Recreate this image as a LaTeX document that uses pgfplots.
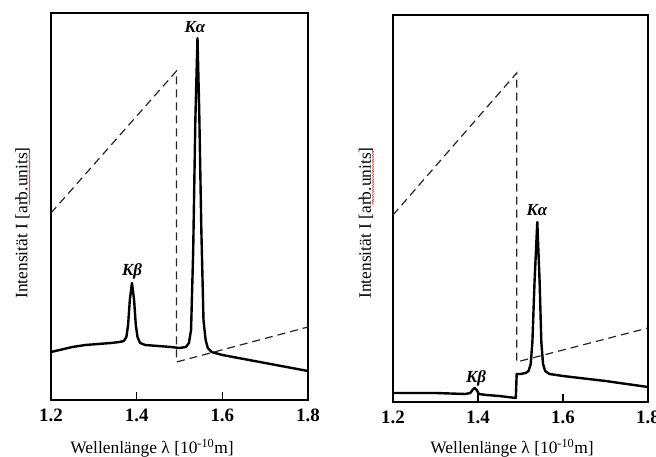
\documentclass[border=0pt]{standalone}
\usepackage{pgfplots}
\pgfplotsset{compat=1.18}
\usepackage{fontspec}
\setmainfont{Liberation Serif}
\usetikzlibrary{decorations.pathmorphing}
\pgfplotsset{myax/.style={
  scale only axis, height=387bp,
  xmin=1.2, xmax=1.8, ymin=0, ymax=387,
  xtick={1.2,1.4,1.6,1.8}, xticklabels={1.2,1.4,1.6,1.8}, ytick=\empty,
  xtick pos=left, tick align=inside, major tick length=8bp,
  axis line style={line width=1.6bp},
  tick style={black, line width=1.4bp},
  xticklabel style={font=\fontsize{19}{21}\selectfont\bfseries, yshift=-5bp},
  clip=false}}
\tikzset{mycurve/.style={black, line width=2.4bp, line join=round},
  mydash/.style={black!85, line width=1.2bp, dash pattern=on 8bp off 5bp},
  klab/.style={font=\fontsize{17}{19}\selectfont\bfseries\itshape},
  lab/.style={font=\fontsize{17.5}{20}\selectfont}}
\begin{document}
\begin{tikzpicture}
\useasboundingbox (0bp,0bp) rectangle (656bp,457bp);
\fill[white] (0bp,0bp) rectangle (656bp,457bp);
% ---------------- left panel
\begin{axis}[myax, width=257bp, at={(51bp,57bp)}, anchor=south west]
\addplot[mydash] coordinates {(1.2,187) (1.493,329) (1.493,38) (1.8,73)};
\addplot[mycurve] coordinates {
(1.2,48) (1.22,50) (1.25,53) (1.28,55) (1.31,56) (1.34,57) (1.36,58)
(1.370,59) (1.376,63) (1.380,75) (1.384,100) (1.389,117) (1.394,100)
(1.398,75) (1.402,63) (1.408,57) (1.42,55) (1.45,54) (1.48,53) (1.50,52)
(1.515,53) (1.522,57) (1.527,70) (1.532,150) (1.537,280) (1.542,362)
(1.546,290) (1.551,170) (1.556,80) (1.561,60) (1.566,52) (1.575,48)
(1.6,45) (1.65,41) (1.7,37) (1.75,33) (1.8,29)};
\end{axis}
% ---------------- right panel
\begin{axis}[myax, width=255bp, at={(393bp,55bp)}, anchor=south west]
\addplot[mydash] coordinates {(1.2,187) (1.491,329) (1.491,40) (1.8,74)};
\addplot[mycurve] coordinates {
(1.2,9) (1.3,9) (1.37,8) (1.382,9) (1.387,12) (1.392,14) (1.397,12)
(1.402,8) (1.42,7) (1.45,6) (1.489,4) (1.491,28) (1.50,28) (1.512,29)
(1.519,31) (1.524,38) (1.528,60) (1.533,120) (1.5395,180) (1.545,120)
(1.549,60) (1.553,38) (1.558,31) (1.568,28) (1.6,26) (1.7,21) (1.8,15)};
\end{axis}
% ---------------- labels
\node[klab] at (195bp,430bp) {Kα};
\node[klab] at (132bp,186bp) {Kβ};
\node[klab] at (537bp,247bp) {Kα};
\node[klab] at (476bp,79bp) {Kβ};
\node[lab] at (152bp,9bp) {Wellenlänge λ [10\textsuperscript{-10}m]};
\node[lab] at (512bp,9bp) {Wellenlänge λ [10\textsuperscript{-10}m]};
\node[lab, rotate=90] at (22.5bp,234bp) {Intensität I [arb.units]};
\node[lab, rotate=90] at (366bp,234bp) {Intensität I [arb.units]};
\draw[red, line width=0.5bp, decorate, decoration={snake, amplitude=0.6bp, segment length=2.5bp}] (29.5bp,306bp) -- (29.5bp,252bp);
\draw[red, line width=0.5bp, decorate, decoration={snake, amplitude=0.6bp, segment length=2.5bp}] (373bp,306bp) -- (373bp,252bp);
\end{tikzpicture}
\end{document}
